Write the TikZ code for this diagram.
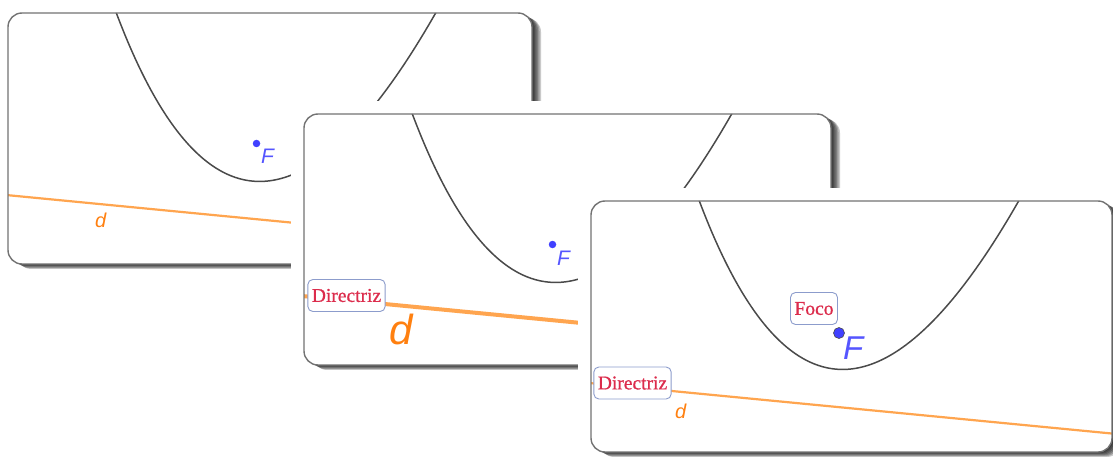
\documentclass[tikz,border=0pt]{standalone}
\usepackage{fontspec}
\newfontfamily\geofont{Liberation Sans}
\newfontfamily\tagfont{Liberation Serif}[FakeBold=0.9]
\definecolor{orng}{HTML}{FFA54F}
\definecolor{orngtxt}{HTML}{FF8010}
\definecolor{bluept}{HTML}{4040FF}
\definecolor{bluetxt}{HTML}{5555FF}
\definecolor{labred}{HTML}{DC2C4C}
\definecolor{labborder}{HTML}{8C9CCC}
\definecolor{curvecol}{HTML}{4A4A4A}
\tikzset{
 panelborder/.style={draw=black!55, line width=1.4pt, rounded corners=14pt},
 parab/.style={draw=curvecol, line width=1.5pt},
 dirline/.style={draw=orng},
 focpt/.style={circle, fill=bluept, inner sep=0pt, minimum size=7.5pt},
 flabel/.style={text=bluetxt, inner sep=0pt, anchor=base west},
 dlabel/.style={text=orngtxt, inner sep=0pt, anchor=base west},
 tagbox/.style={draw=labborder, fill=white, rounded corners=5pt, line width=0.9pt,
   text=labred, font=\tagfont\fontsize{19.5}{19.5}\selectfont,
   inner xsep=4pt, inner ysep=0pt, minimum height=32pt},
}
% #1 prefix, #2 x, #3 y, #4 width, #5 directrix width
\newcommand{\geopanel}[5]{%
\begin{scope}[shift={(#2,#3)}]
 \fill[white] (-13,-13) rectangle (#4+16,266);
 \foreach \s in {1.5,3,4.5,6,7.5,9} {\fill[black,opacity=0.21,rounded corners=14pt] (\s,0.55*\s) rectangle (#4+\s,251+0.55*\s);}
 \fill[white, rounded corners=14pt] (0,0) rectangle (#4,251);
 \begin{scope}
  \clip[rounded corners=14pt] (0,0) rectangle (#4,251);
  \draw[parab] plot[domain=-166:181, samples=120, smooth]
    ({244.4 + 0.9953*\x + 0.0966*(\x/12.215)*(\x/12.215)}, {168.1 + 0.0966*\x - 0.9953*(\x/12.215)*(\x/12.215)});
  \coordinate (#1a) at (-2,182);
  \coordinate (#1b) at (#4+2,{182+0.097*(#4+2)});
  \draw[dirline, line width=#5] (#1a) -- (#1b);
 \end{scope}
 \draw[panelborder] (0,0) rectangle (#4,251);
\end{scope}}
\begin{document}
\begin{tikzpicture}[x=1pt,y=-1pt]
\useasboundingbox (0,0) rectangle (1113,457);
% panel 1
\geopanel{pa}{8}{13}{524}{2.2pt}
\begin{scope}[shift={(8,13)}]
 \node[focpt] (fa) at (248.5,130.5) {};
 \node[flabel, font=\geofont\itshape\fontsize{21}{21}\selectfont] (Fa) at (253,151) {F};
 \node[dlabel, font=\geofont\itshape\fontsize{20}{20}\selectfont] (da) at (87,214) {d};
\end{scope}
% panel 2
\geopanel{pb}{304}{114}{527}{4pt}
\begin{scope}[shift={(304,114)}]
 \node[focpt] (fb) at (248.5,130.5) {};
 \node[flabel, font=\geofont\itshape\fontsize{21}{21}\selectfont] (Fb) at (253,151) {F};
 \node[dlabel, font=\geofont\itshape\fontsize{42}{42}\selectfont] (db) at (85,230) {d};
 \node[tagbox] (tb) at (42.5,181.5) {Directriz};
\end{scope}
% panel 3
\geopanel{pc}{591}{201}{521}{2.2pt}
\begin{scope}[shift={(591,201)}]
 \node[focpt, minimum size=11pt, draw=black!70, line width=0.6pt] (fc) at (248,132) {};
 \node[flabel, font=\geofont\itshape\fontsize{33}{33}\selectfont] (Fc) at (252,158) {F};
 \node[dlabel, font=\geofont\itshape\fontsize{20}{20}\selectfont] (dc) at (84,217) {d};
 \node[tagbox] (tc) at (41.5,182) {Directriz};
 \node[tagbox] (tf) at (223,107.5) {Foco};
\end{scope}
\end{tikzpicture}
\end{document}
